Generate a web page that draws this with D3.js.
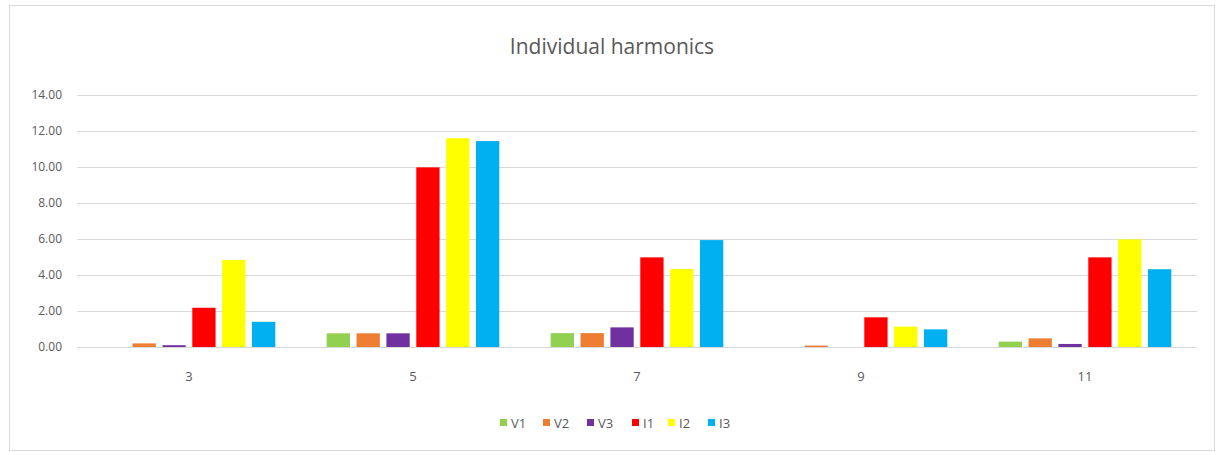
<!DOCTYPE html>
<html>
<head>
<meta charset="utf-8">
<script src="https://cdn.jsdelivr.net/npm/d3@7"></script>
<style>
  body { margin: 0; background: #fff; font-family: "Open Sans", "Liberation Sans", sans-serif; }
</style>
</head>
<body>
<div id="chart"></div>
<script>
const harmonics = ["3", "5", "7", "9", "11"];
const seriesNames = ["V1", "V2", "V3", "I1", "I2", "I3"];
const v1 = [0.0, 0.76, 0.77, 0.0, 0.3];
const v2 = [0.2, 0.76, 0.77, 0.08, 0.48];
const v3 = [0.1, 0.76, 1.09, 0.0, 0.17];
const i1 = [2.18, 9.98, 4.98, 1.65, 4.98];
const i2 = [4.83, 11.6, 4.33, 1.13, 5.98];
const i3 = [1.4, 11.44, 5.94, 0.98, 4.32];
const yTicks = [0, 2, 4, 6, 8, 10, 12, 14];

const seriesValues = [v1, v2, v3, i1, i2, i3];
const colors = ["#92D050", "#ED7D31", "#7030A0", "#FF0000", "#FFFF00", "#00B0F0"];

const W = 1216, H = 455;
const margin = { top: 95, right: 19, bottom: 108, left: 77 };
const width = W - margin.left - margin.right;
const height = H - margin.top - margin.bottom;

const svg = d3.select("#chart").append("svg")
  .attr("width", W)
  .attr("height", H);

// chart frame
svg.append("rect")
  .attr("x", 9.5).attr("y", 5.5)
  .attr("width", 1205).attr("height", 445)
  .attr("fill", "#fff")
  .attr("stroke", "#d9d9d9");

svg.append("text")
  .attr("x", W / 2 + 4)
  .attr("y", 54)
  .attr("text-anchor", "middle")
  .attr("font-size", 21)
  .attr("fill", "#595959")
  .text("Individual harmonics");

const g = svg.append("g").attr("transform", `translate(${margin.left},${margin.top})`);

const x0 = d3.scaleBand().domain(harmonics).range([0, width]).paddingInner(0.2).paddingOuter(0.1);
const x1 = d3.scaleBand().domain(seriesNames).range([0, x0.bandwidth()]).paddingInner(0.22).paddingOuter(0.11);
const y = d3.scaleLinear().domain([0, 14]).range([height, 0]);

// gridlines
g.selectAll(".grid").data(yTicks).join("line")
  .attr("x1", 0).attr("x2", width)
  .attr("y1", d => Math.round(y(d)) + 0.5).attr("y2", d => Math.round(y(d)) + 0.5)
  .attr("stroke", "#d9d9d9").attr("stroke-width", 1);

g.selectAll(".ytick").data(yTicks).join("text")
  .attr("x", -15)
  .attr("y", d => y(d))
  .attr("dy", "0.35em")
  .attr("text-anchor", "end")
  .attr("font-size", 12)
  .attr("fill", "#595959")
  .text(d => d.toFixed(2));

const groups = g.selectAll(".grp").data(harmonics).join("g")
  .attr("transform", d => `translate(${x0(d)},0)`);

groups.selectAll("rect")
  .data((d, i) => seriesNames.map((s, k) => ({ s, v: seriesValues[k][i], c: colors[k] })))
  .join("rect")
  .attr("x", d => x1(d.s))
  .attr("width", x1.bandwidth())
  .attr("y", d => y(d.v))
  .attr("height", d => y(0) - y(d.v))
  .attr("fill", d => d.c);

// x axis line
g.append("line")
  .attr("x1", 0).attr("x2", width)
  .attr("y1", Math.round(y(0)) + 0.5).attr("y2", Math.round(y(0)) + 0.5)
  .attr("stroke", "#d9d9d9");

g.selectAll(".xlab").data(harmonics).join("text")
  .attr("x", d => x0(d) + x0.bandwidth() / 2)
  .attr("y", height + 34)
  .attr("text-anchor", "middle")
  .attr("font-size", 13)
  .attr("fill", "#595959")
  .text(d => d);

// legend
const legend = svg.append("g").attr("transform", "translate(500,423)");
const itemW = [43, 44, 45, 36, 40, 40];
let lx = 0;
seriesNames.forEach((s, k) => {
  const it = legend.append("g").attr("transform", `translate(${lx},0)`);
  it.append("rect").attr("x", 0).attr("y", -4).attr("width", 7).attr("height", 7).attr("fill", colors[k]);
  it.append("text").attr("x", 11).attr("y", 0).attr("dy", "0.35em")
    .attr("font-size", 13).attr("fill", "#595959").text(s);
  lx += itemW[k];
});
</script>
</body>
</html>
